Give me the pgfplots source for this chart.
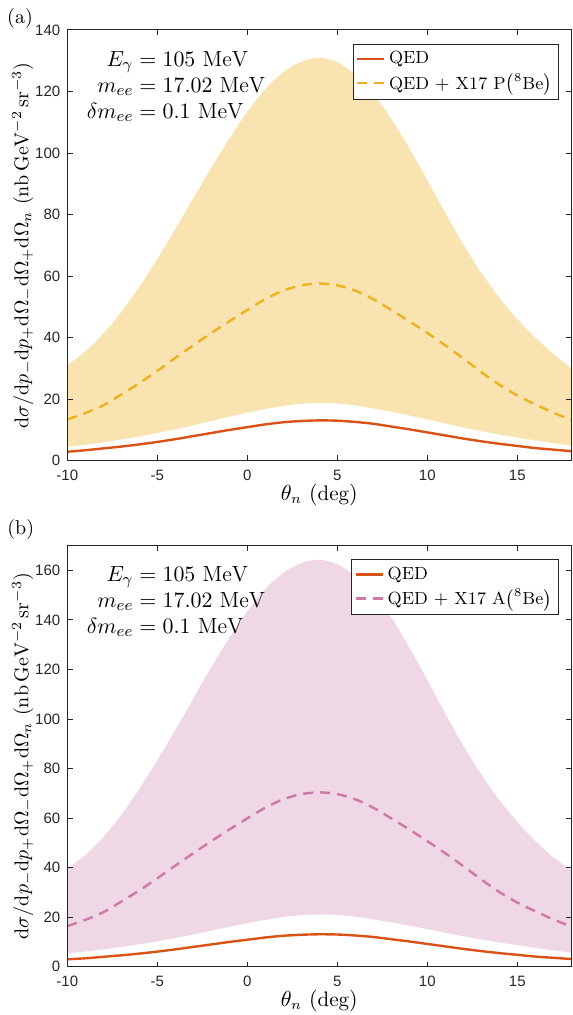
\documentclass[border=0pt]{standalone}
\usepackage{amsmath}
\usepackage{fontspec}
\usepackage{pgfplots}
\usepackage{pgfplotstable}
\pgfplotsset{compat=1.18}
\usepgfplotslibrary{fillbetween}
\newfontfamily\ticksf{Liberation Sans}
\definecolor{qed}{HTML}{D95319}
\definecolor{xp}{HTML}{EDB120}
\definecolor{xa}{HTML}{CC79A7}
\definecolor{axgray}{HTML}{262626}

% x: theta_n, qed: QED, lo/up: band, mid: QED + X17
\pgfplotstableread{
x qed lo up mid
-10 2.9 4.5 31 13.4
-9 3.4 5.2 35.5 15.5
-8 4.0 6.0 41.3 18
-7 4.6 6.9 48.3 21.5
-6 5.3 7.9 56.5 25.2
-5 6.1 9.0 65.6 29.2
-4 7.0 10.2 75.3 33.4
-3 8.0 11.5 85.3 37.5
-2 9.0 12.9 95.2 41.5
-1 10.0 14.3 104.7 45.3
0 10.9 15.6 113.4 49
1 11.8 16.8 120.8 52.5
2 12.5 17.8 126.3 55.3
3 12.9 18.5 129.7 57
4 13.1 18.8 131 57.6
5 13.0 18.6 129.5 57
6 12.6 18.0 125.5 55.3
7 12.0 17.0 119.2 52.5
8 11.1 15.9 111.1 49
9 10.2 14.7 101.6 45.3
10 9.2 13.4 91.2 41.5
11 8.2 12.1 80.5 37.5
12 7.2 10.8 70.3 33.2
13 6.3 9.6 61.1 28.8
14 5.5 8.5 53 24.7
15 4.8 7.5 46 21.2
16 4.1 6.6 40 18.3
17 3.6 5.7 34.8 15.6
18 3.1 5.0 30 13.3
}\dataP

\pgfplotstableread{
x qed lo up mid
-10 3.0 5.4 39.5 16.4
-9 3.4 6.1 45.1 18.9
-8 4.0 7.0 52.4 22
-7 4.6 8.0 61.3 26.3
-6 5.3 9.1 71.8 30.8
-5 6.1 10.3 83.3 35.7
-4 7.0 11.6 95.6 40.8
-3 8.0 13.0 108.3 45.8
-2 9.0 14.6 120.9 50.7
-1 10.0 16.1 132.7 55.4
0 10.9 17.6 143.5 59.9
1 11.8 18.9 152.5 64.2
2 12.5 20.0 159 67.6
3 12.9 20.8 163 69.7
4 13.1 21.1 164.3 70.4
5 13.0 20.9 162.5 69.7
6 12.6 20.2 157.5 67.6
7 12.0 19.1 150.5 64.2
8 11.1 17.9 141 59.9
9 10.2 16.6 129 55.4
10 9.2 15.2 115.8 50.7
11 8.2 13.7 102.2 45.8
12 7.2 12.3 89.3 40.6
13 6.3 11.0 77.6 35.2
14 5.5 9.8 67.3 30.2
15 4.8 8.7 58.4 25.9
16 4.1 7.6 50.8 22.4
17 3.6 6.6 44.2 19.1
18 3.1 5.8 39 16.2
}\dataA

\pgfplotsset{
  panel/.style={
    scale only axis,
    width=252pt,
    xmin=-10, xmax=18, ymin=0,
    xtick={-10,-5,0,5,10,15},
    xticklabels={-10,-5,0,5,10,15},
    xtick pos=both, ytick pos=both,
    tick align=inside,
    major tick length=2.6pt,
    axis on top,
    axis line style={axgray, line width=0.5pt},
    every tick/.style={axgray, line width=0.5pt},
    tick label style={font=\ticksf\fontsize{7.5}{9}\selectfont, text=axgray},
    xticklabel style={yshift=-1pt},
    xlabel={$\theta_n\ (\mathrm{deg})$},
    xlabel style={at={(axis description cs:0.5,0)}, anchor=center, yshift=-17pt, font=\fontsize{10.5}{12}\selectfont},
    ylabel={$\mathrm{d}\sigma/\mathrm{d}p_-\mathrm{d}p_+\mathrm{d}\Omega_-\mathrm{d}\Omega_+\mathrm{d}\Omega_n\ (\mathrm{nb\,GeV^{-2}\,sr^{-3}})$},
    ylabel style={at={(axis description cs:-0.0889,0.5)}, anchor=center, font=\fontsize{10}{12}\selectfont},
    legend style={at={(0.976,0.9675)}, anchor=north east, draw=axgray, line width=0.4pt,
      fill=white, font=\fontsize{8.8}{10.5}\selectfont, inner sep=1.5pt, row sep=-0.5pt},
    legend cell align=left,
    legend image code/.code={\draw[#1] (0pt,0pt) -- (13.3pt,0pt);},
  },
  qedline/.style={qed, line width=1.2pt, smooth},
  xline/.style={line width=1.2pt, smooth, dash pattern=on 5pt off 3.5pt},
}

\newcommand{\params}{%
  \fontsize{11}{13}\selectfont
  \begin{tabular}{@{}r@{}l@{}}
  $E_\gamma$ & ${}= 105\ \mathrm{MeV}$\\
  $m_{ee}$ & ${}= 17.02\ \mathrm{MeV}$\\
  $\delta m_{ee}$ & ${}= 0.1\ \mathrm{MeV}$
  \end{tabular}}

\begin{document}
\begin{tikzpicture}
\node[font=\fontsize{10}{12}\selectfont] at (10pt,-9.2pt) {(a)};
\node[font=\fontsize{10}{12}\selectfont] at (10.4pt,-264.5pt) {(b)};

\begin{axis}[panel, at={(33.65pt,-15pt)}, anchor=north west, height=215.35pt,
    ymax=140, ytick={0,20,...,140}, yticklabels={0,20,40,60,80,100,120,140}]
  \addplot[draw=none, smooth, name path=upP, forget plot] table[x=x, y=up] {\dataP};
  \addplot[draw=none, smooth, name path=loP, forget plot] table[x=x, y=lo] {\dataP};
  \addplot[fill=xp!35!white, draw=none, forget plot] fill between[of=upP and loP];
  \addplot[qedline] table[x=x, y=qed] {\dataP};
  \addlegendentry{QED}
  \addplot[xline, xp] table[x=x, y=mid] {\dataP};
  \addlegendentry{QED $+$ X17 P$\left(^{8}\mathrm{Be}\right)$}
  \node[anchor=north west, inner sep=0pt] at (rel axis cs:0.038,0.959) {\params};
\end{axis}

\begin{axis}[panel, at={(33.65pt,-272.85pt)}, anchor=north west, height=210.5pt,
    ymax=170, ytick={0,20,...,160}, yticklabels={0,20,40,60,80,100,120,140,160}]
  \addplot[draw=none, smooth, name path=upA, forget plot] table[x=x, y=up] {\dataA};
  \addplot[draw=none, smooth, name path=loA, forget plot] table[x=x, y=lo] {\dataA};
  \addplot[fill=xa!30!white, draw=none, forget plot] fill between[of=upA and loA];
  \addplot[qedline] table[x=x, y=qed] {\dataA};
  \addlegendentry{QED}
  \addplot[xline, xa] table[x=x, y=mid] {\dataA};
  \addlegendentry{QED $+$ X17 A$\left(^{8}\mathrm{Be}\right)$}
  \node[anchor=north west, inner sep=0pt] at (rel axis cs:0.038,0.959) {\params};
\end{axis}

\pgfresetboundingbox
\useasboundingbox (0,0) rectangle (286pt,-507.5pt);
\end{tikzpicture}
\end{document}
